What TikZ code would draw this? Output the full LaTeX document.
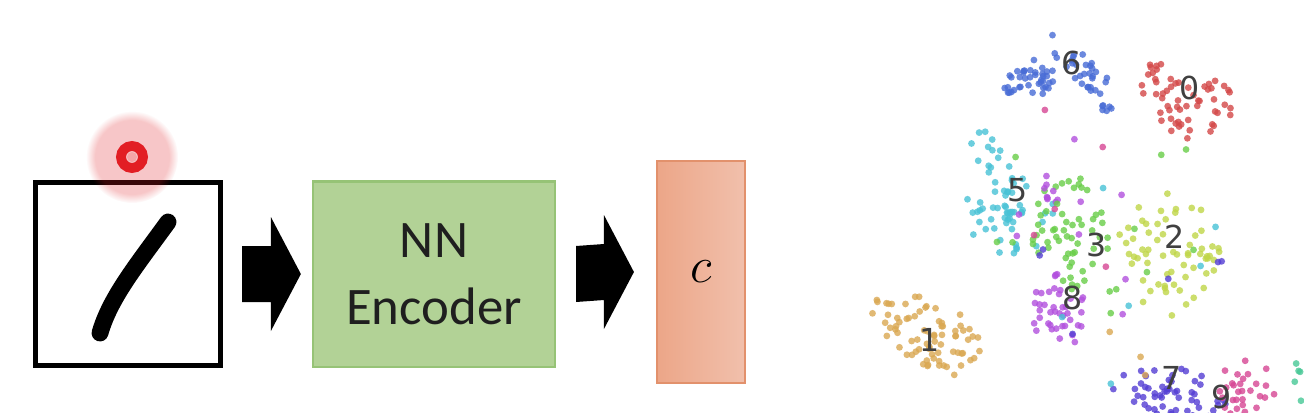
\documentclass[tikz,border=0pt]{standalone}
\usepackage{fontspec}
\setmainfont{Carlito}
\newfontfamily\digitfont{DejaVu Sans}
\usetikzlibrary{calc,fadings}

\definecolor{encfill}{RGB}{178,210,150}
\definecolor{encline}{RGB}{150,195,118}
\definecolor{codeleft}{RGB}{236,166,136}
\definecolor{coderight}{RGB}{241,192,172}
\definecolor{codeline}{RGB}{226,145,108}
\definecolor{laser}{RGB}{226,30,36}
\definecolor{cA}{RGB}{212,72,72}   % 0
\definecolor{cB}{RGB}{218,168,82}  % 1
\definecolor{cC}{RGB}{192,214,72}  % 2
\definecolor{cD}{RGB}{104,206,72}  % 3
\definecolor{cE}{RGB}{72,200,150}  % 4
\definecolor{cF}{RGB}{72,194,214}  % 5
\definecolor{cG}{RGB}{72,108,214}  % 6
\definecolor{cH}{RGB}{84,62,212}   % 7
\definecolor{cI}{RGB}{178,80,222}  % 8
\definecolor{cJ}{RGB}{214,70,148}  % 9

\tikzset{
	digit/.style={font=\digitfont\fontsize{9}{9}\selectfont, text=black!75, inner sep=0pt},
	dot/.style={fill opacity=0.8},
}
% block arrow between two nodes: from, to, gap at start, gap at tip
\newcommand{\blockarrow}[4]{\fill ($(#1.east)+(#3,-28)$) -- ($(#2.west)+(-#4-30,-28)$) -- ($(#2.west)+(-#4-30,-57)$) -- ($(#2.west)+(-#4,0)$) -- ($(#2.west)+(-#4-30,57)$) -- ($(#2.west)+(-#4-30,28)$) -- ($(#1.east)+(#3,28)$) -- cycle;}

\begin{document}
\begin{tikzpicture}[x=0.01cm,y=-0.01cm]
			%%%%% START %%%%%
			\useasboundingbox (0,0) rectangle (1304,412);
			\fill[white] (0,0) rectangle (1304,412);
			
			% input image
			\node[draw, line width=1.4pt, minimum width=1.85cm, minimum height=1.83cm] (img) at (128,274) {};
			\draw[line width=4.8pt, line cap=round] (168,222) .. controls (136,266) and (110,298) .. (100,333);
			
			% pointer
			\fill[laser, fill opacity=0.25, path fading=circle with fuzzy edge 20 percent] (132,157) circle (46);
			\draw[laser, line width=2.8pt] (132,157) circle (11);
			\fill[laser!40] (132,157) circle (5);
			
			% encoder and code
			\node[draw=encline, fill=encfill, line width=0.6pt, minimum width=2.42cm, minimum height=1.85cm, align=center, text=black!88, font=\fontsize{15}{19}\selectfont] (enc) at (434,274) {NN\\Encoder};
			\node[draw=codeline, left color=codeleft, right color=coderight, line width=0.6pt, minimum width=0.88cm, minimum height=2.21cm] (code) at (701,272) {\fontsize{14}{14}\selectfont\raisebox{-1.7pt}{$c$}};
			
			\blockarrow{img}{enc}{19}{11}
			\blockarrow{enc}{code}{20}{22}
			
			% embedding scatter
			\begin{scope}
				\clip (0,0) rectangle (1304,412);
				\pgfmathsetseed{11}
				\foreach \cx/\cy/\sx/\sy/\ang/\col/\n in {
					1035/76/38/20/-30/cG/42, 1092/78/38/16/65/cG/32, 1052/36/3/3/0/cG/1,
					1155/82/18/22/0/cA/16, 1195/108/30/44/80/cA/42,
					1010/212/46/42/0/cF/54, 985/152/16/22/0/cF/12,
					1170/252/54/64/0/cC/64,
					1070/232/40/58/0/cD/54,
					1058/312/28/38/0/cI/40, 1052/192/10/22/0/cI/9,
					930/334/64/34/30/cB/76,
					1170/394/58/28/10/cH/54,
					1246/390/30/32/0/cJ/34,
					1300/386/8/26/0/cE/5,
					1095/215/115/130/0/cD/14, 1110/245/110/130/0/cI/8,
					1100/250/120/140/0/cF/7, 1120/290/110/110/0/cH/7,
					1085/180/90/110/0/cJ/5, 1120/330/70/60/0/cB/3}{
					\foreach \k in {1,...,\n}{
						\pgfmathsetmacro\rad{pow(rnd,0.6)}
						\pgfmathsetmacro\phi{360*rnd}
						\pgfmathsetmacro\ptx{\sx*\rad*cos(\phi)}
						\pgfmathsetmacro\pty{\sy*\rad*sin(\phi)}
						\fill[\col, dot] ({\cx+\ptx*cos(\ang)-\pty*sin(\ang)},{\cy+\ptx*sin(\ang)+\pty*cos(\ang)}) circle (3.4);
					}
				}
			\end{scope}
			
			\node[digit] (l6) at (1072,63) {6};
			\node[digit] (l0) at (1190,88) {0};
			\node[digit] (l5) at (1018,190) {5};
			\node[digit] (l2) at (1175,237) {2};
			\node[digit] (l3) at (1097,245) {3};
			\node[digit] (l8) at (1073,298) {8};
			\node[digit] (l1) at (930,340) {1};
			\node[digit] (l7) at (1172,378) {7};
			\node[digit] (l9) at (1222,397) {9};
			
			%%%%% END %%%%%
\end{tikzpicture}
\end{document}
